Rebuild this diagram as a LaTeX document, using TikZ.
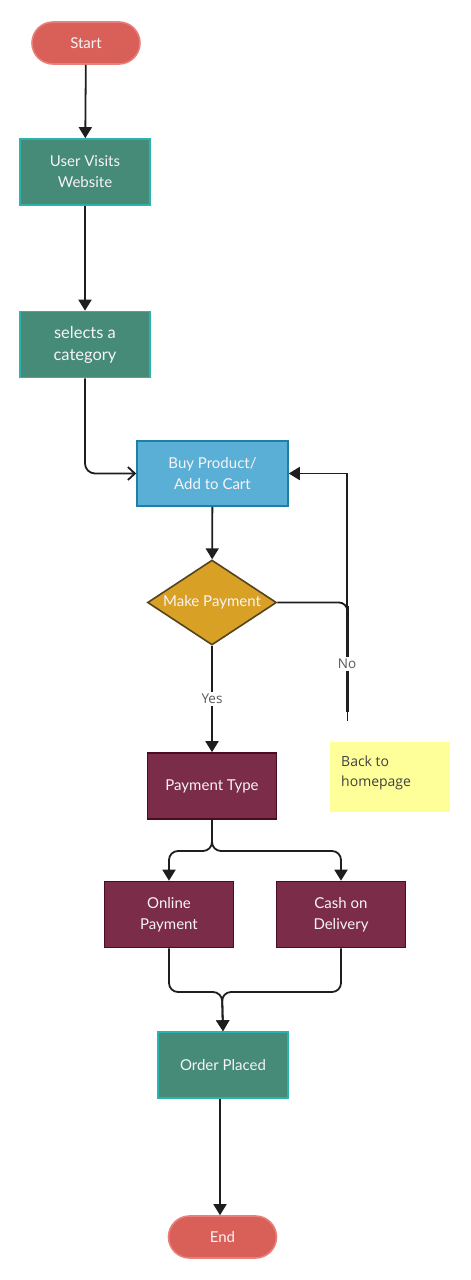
\documentclass[tikz,border=0pt]{standalone}
\usepackage{fontspec}
\setmainfont{Lato}
\newfontfamily\labelfont{Open Sans}
\usetikzlibrary{shapes.geometric,arrows.meta}
\definecolor{startfill}{HTML}{D95F59}
\definecolor{startdraw}{HTML}{E98079}
\definecolor{tealfill}{HTML}{468A78}
\definecolor{tealdraw}{HTML}{2AB3AF}
\definecolor{bluefill}{HTML}{5AAFD6}
\definecolor{bluedraw}{HTML}{1F7FA6}
\definecolor{goldfill}{HTML}{D9A026}
\definecolor{golddraw}{HTML}{54431F}
\definecolor{maroonfill}{HTML}{7B2C48}
\definecolor{maroondraw}{HTML}{4A0C22}
\definecolor{notefill}{HTML}{FFFF99}
\definecolor{linecol}{HTML}{1E1E1E}
\definecolor{txt}{HTML}{F7F4F4}
\begin{document}
\begin{tikzpicture}[x=1pt,y=-1pt,
  base/.style={inner sep=0pt, align=center, text=txt, font=\fontsize{15}{21}\selectfont, line width=1.6pt},
  terminal/.style={base, rounded corners=21pt, minimum width=108pt, minimum height=42pt, fill=startfill, draw=startdraw},
  tealbox/.style={base, minimum width=130pt, minimum height=66pt, fill=tealfill, draw=tealdraw},
  bluebox/.style={base, minimum width=151pt, minimum height=65pt, fill=bluefill, draw=bluedraw},
  maroonbox/.style={base, minimum width=129pt, minimum height=66pt, fill=maroonfill, draw=maroondraw},
  decision/.style={base, diamond, aspect=1.52, minimum width=129pt, minimum height=85pt, fill=goldfill, draw=golddraw},
  notebox/.style={inner sep=0pt, minimum width=120pt, minimum height=70pt, fill=notefill},
  conn/.style={draw=linecol, line width=1.8pt},
  arr/.style={conn, -{Triangle[width=13pt,length=11pt]}},
  openarr/.style={conn, -{Straight Barb[width=13pt,length=7pt,line width=1.8pt]}},
  lbl/.style={fill=white, text=black!65, font=\labelfont\fontsize{13.5}{16}\selectfont, inner sep=2pt}
]
\useasboundingbox (0,0) rectangle (471,1280);

\node[terminal] (start) at (86,43) {Start};
\node[tealbox] (visit) at (85,172) {User Visits\\Website};
\node[tealbox, font=\fontsize{16.5}{22}\selectfont] (cat) at (85,344.5) {selects a\\category};
\node[bluebox] (buy) at (212.5,473.5) {Buy Product/\\Add to Cart};
\node[decision] (pay) at (212,602.5) {Make Payment};
\node[maroonbox] (ptype) at (212,786) {Payment Type};
\node[maroonbox] (online) at (169,914.5) {Online\\Payment};
\node[maroonbox] (cod) at (341,914.5) {Cash on\\Delivery};
\node[tealbox] (order) at (223,1065) {Order Placed};
\node[terminal] (end) at (222.5,1237) {End};
\node[notebox] (note) at (390,777) {};
\node[anchor=north west, align=left, text=black!75, font=\labelfont\fontsize{14}{20}\selectfont, inner sep=0pt] (notetext) at (341,756) {Back to\\homepage};

\coordinate (nojoin) at (347,602.5);
\coordinate (upstart) at (347,608);
\coordinate (noend) at (347.5,712);
\coordinate (notip) at (347.5,721);

\draw[arr] (start) -- (visit);
\draw[arr] (visit) -- (cat);
\draw[openarr, rounded corners=10pt] (cat.south) |- (buy.west);
\draw[arr] (buy) -- (pay);
\draw[arr] (upstart) |- (buy.east);
\draw[conn, rounded corners=8pt] (pay.east) -- (nojoin) -- (347.5,618);
\draw[draw=linecol, line width=3.4pt] (347.5,606) -- (noend);
\draw[draw=linecol, line width=1.6pt] (noend) -- (notip);
\node[lbl] (nolbl) at (347,664) {No};
\draw[arr] (pay.south) -- node[lbl] (yes) {Yes} (ptype.north);
\draw[arr, rounded corners=9pt] (ptype.south) -- (212,851) -| (online.north);
\draw[arr, rounded corners=9pt] (ptype.south) -- (212,851) -| (cod.north);
\draw[arr, rounded corners=9pt] (online.south) |- (222,992) -- (order.north);
\draw[arr, rounded corners=9pt] (cod.south) |- (222,992) -- (order.north);
\draw[arr] (order.south -| 220,0) -- (end.north -| 220,0);
\end{tikzpicture}
\end{document}
